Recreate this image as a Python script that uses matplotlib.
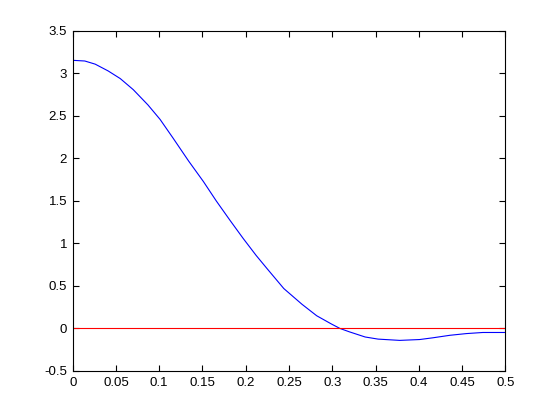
import matplotlib
matplotlib.use('Agg')
from matplotlib import pyplot as plt

# curve
x_vals = [0, 0.014, 0.026, 0.041, 0.055, 0.070, 0.087, 0.101, 0.116, 0.134,
          0.151, 0.166, 0.182, 0.197, 0.212, 0.225, 0.244, 0.265, 0.282, 0.299,
          0.309, 0.320, 0.338, 0.353, 0.378, 0.401, 0.416, 0.436, 0.455, 0.474, 0.5]
y_vals = [3.155, 3.147, 3.11, 3.03, 2.94, 2.81, 2.63, 2.46, 2.24, 1.97,
          1.73, 1.50, 1.27, 1.06, 0.86, 0.70, 0.47, 0.285, 0.15, 0.053,
          0.0, -0.04, -0.10, -0.125, -0.14, -0.13, -0.11, -0.08, -0.06, -0.047, -0.047]
zero_x = [0, 0.5]
zero_y = [0, 0]

x_ticks = [0, 0.05, 0.1, 0.15, 0.2, 0.25, 0.3, 0.35, 0.4, 0.45, 0.5]
x_labels = ['0', '0.05', '0.1', '0.15', '0.2', '0.25', '0.3', '0.35', '0.4', '0.45', '0.5']
y_ticks = [-0.5, 0, 0.5, 1, 1.5, 2, 2.5, 3, 3.5]
y_labels = ['-0.5', '0', '0.5', '1', '1.5', '2', '2.5', '3', '3.5']

plt.rcParams['font.family'] = ['Liberation Sans', 'DejaVu Sans']

fig = plt.figure(figsize=(5.6, 4.2), dpi=100, facecolor='white')
ax = fig.add_axes([0.1298, 0.1167, 0.7725, 0.8095])

ax.plot(x_vals, y_vals, color=(0, 0, 1), linewidth=0.8)
ax.plot(zero_x, zero_y, color=(1, 0, 0), linewidth=0.8)

ax.set_xlim(0, 0.5)
ax.set_ylim(-0.5, 3.5)
ax.set_xticks(x_ticks)
ax.set_xticklabels(x_labels)
ax.set_yticks(y_ticks)
ax.set_yticklabels(y_labels)
ax.tick_params(direction='in', length=4, width=0.8, top=True, right=True,
               labelsize=9.5, pad=4)
for side in ax.spines.values():
    side.set_linewidth(0.8)

fig.savefig('out.png', dpi=100, facecolor='white')
